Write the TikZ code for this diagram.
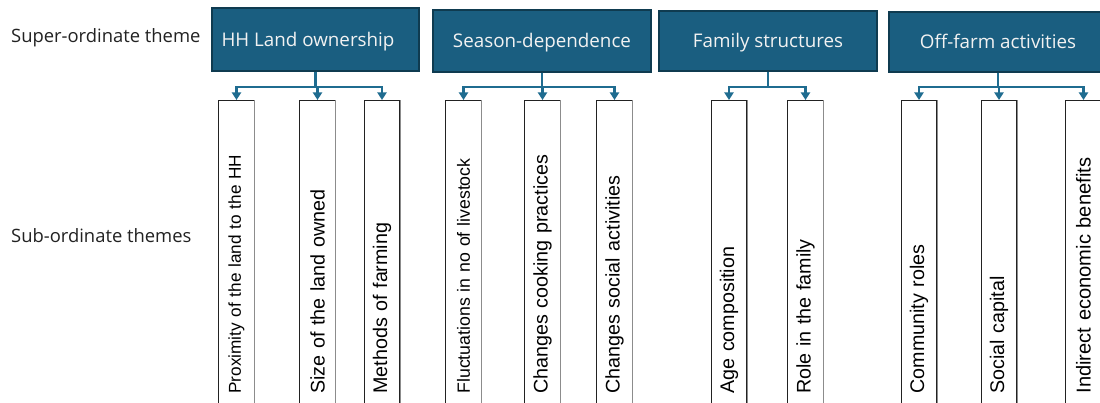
\documentclass[tikz,border=0pt]{standalone}
\usepackage{fontspec}
\setmainfont{Open Sans}
\newfontfamily\arialfont{Liberation Sans}
\usetikzlibrary{arrows.meta}
\definecolor{themefill}{HTML}{1A5E80}
\definecolor{themeedge}{HTML}{0F3B50}
\definecolor{linkblue}{HTML}{1F6C90}
\definecolor{subedge}{HTML}{222222}
\definecolor{shadeedge}{HTML}{8C8C8C}
\definecolor{labeltext}{HTML}{222222}

\begin{document}
\begin{tikzpicture}[x=1pt,y=-1pt,
  theme/.style={draw=themeedge, line width=1.5pt, fill=themefill, text=white!95!black,
    font=\fontsize{18.8}{22}\selectfont, inner sep=0pt, text height=15pt, text depth=1.5pt},
  subtheme/.style={draw=subedge, line width=1.1pt, rotate=90, anchor=east,
    minimum width=330pt, minimum height=35.5pt, inner xsep=37pt, inner ysep=0pt,
    text width=256pt, align=left, font=\arialfont\fontsize{19.7}{22}\selectfont},
  fitted/.style={font=\arialfont\fontsize{#1}{20}\selectfont},
  rowlabel/.style={anchor=base west, inner sep=0pt, font=\fontsize{18.4}{22}\selectfont, text=labeltext},
  link/.style={draw=linkblue, line width=2.2pt, -{Triangle[width=9pt,length=7.5pt]}},
  shade/.style={draw=shadeedge, line width=1.3pt},
]
\useasboundingbox (0,0) rectangle (1100,403);
\fill[white] (0,0) rectangle (1100,403);
\clip (0,0) rectangle (1100,403);

% row labels
\node[rowlabel] (superlabel) at (11,43) {Super-ordinate theme};
\node[rowlabel] (sublabel) at (11,243) {Sub-ordinate themes};

% super-ordinate themes
\node[theme, minimum width=207pt, minimum height=63pt] (hh) at (315.5,39.5) {\hspace*{-15pt}HH Land ownership};
\node[theme, minimum width=218pt, minimum height=62pt] (season) at (542,41) {Season-dependence};
\node[theme, minimum width=218pt, minimum height=60pt] (family) at (768,41) {Family structures};
\node[theme, minimum width=218pt, minimum height=60pt] (offfarm) at (998,42) {Off-farm activities};

% sub-ordinate themes (the two longest labels are set smaller to fit)
\node[subtheme, fitted=17.2] (hh1) at (236.5,100) {Proximity of the land to the HH};
\node[subtheme] (hh2) at (317.5,100) {Size of the land owned};
\node[subtheme] (hh3) at (382,100) {Methods of farming};

\node[subtheme, fitted=17.7] (se1) at (463.5,100) {Fluctuations in no of livestock};
\node[subtheme] (se2) at (542.5,100) {Changes cooking practices};
\node[subtheme] (se3) at (614.5,100) {Changes social activities};

\node[subtheme] (fa1) at (729,100) {Age composition};
\node[subtheme] (fa2) at (805.5,100) {Role in the family};

\node[subtheme] (of1) at (919,100) {Community roles};
\node[subtheme] (of2) at (999,100) {Social capital};
\node[subtheme, fitted=20.1] (of3) at (1083.5,100) {Indirect economic benefits};

% lighter right-hand edges of the sub-theme boxes
\foreach \n in {hh1,hh2,hh3,se1,se2,se3,fa1,fa2,of1,of2,of3}
  \draw[shade] (\n.south west) -- (\n.south east);

% connectors
\foreach \n in {hh1,hh2,hh3}
  \draw[link] (hh.south) -- ++(0,15) -| (\n.east);
\foreach \n in {se1,se2,se3}
  \draw[link] (season.south) -- ++(0,14) -| (\n.east);
\foreach \n in {fa1,fa2}
  \draw[link] (family.south) -- ++(0,15) -| (\n.east);
\foreach \n in {of1,of2,of3}
  \draw[link] (offfarm.south) -- ++(0,14) -| (\n.east);
\end{tikzpicture}
\end{document}
